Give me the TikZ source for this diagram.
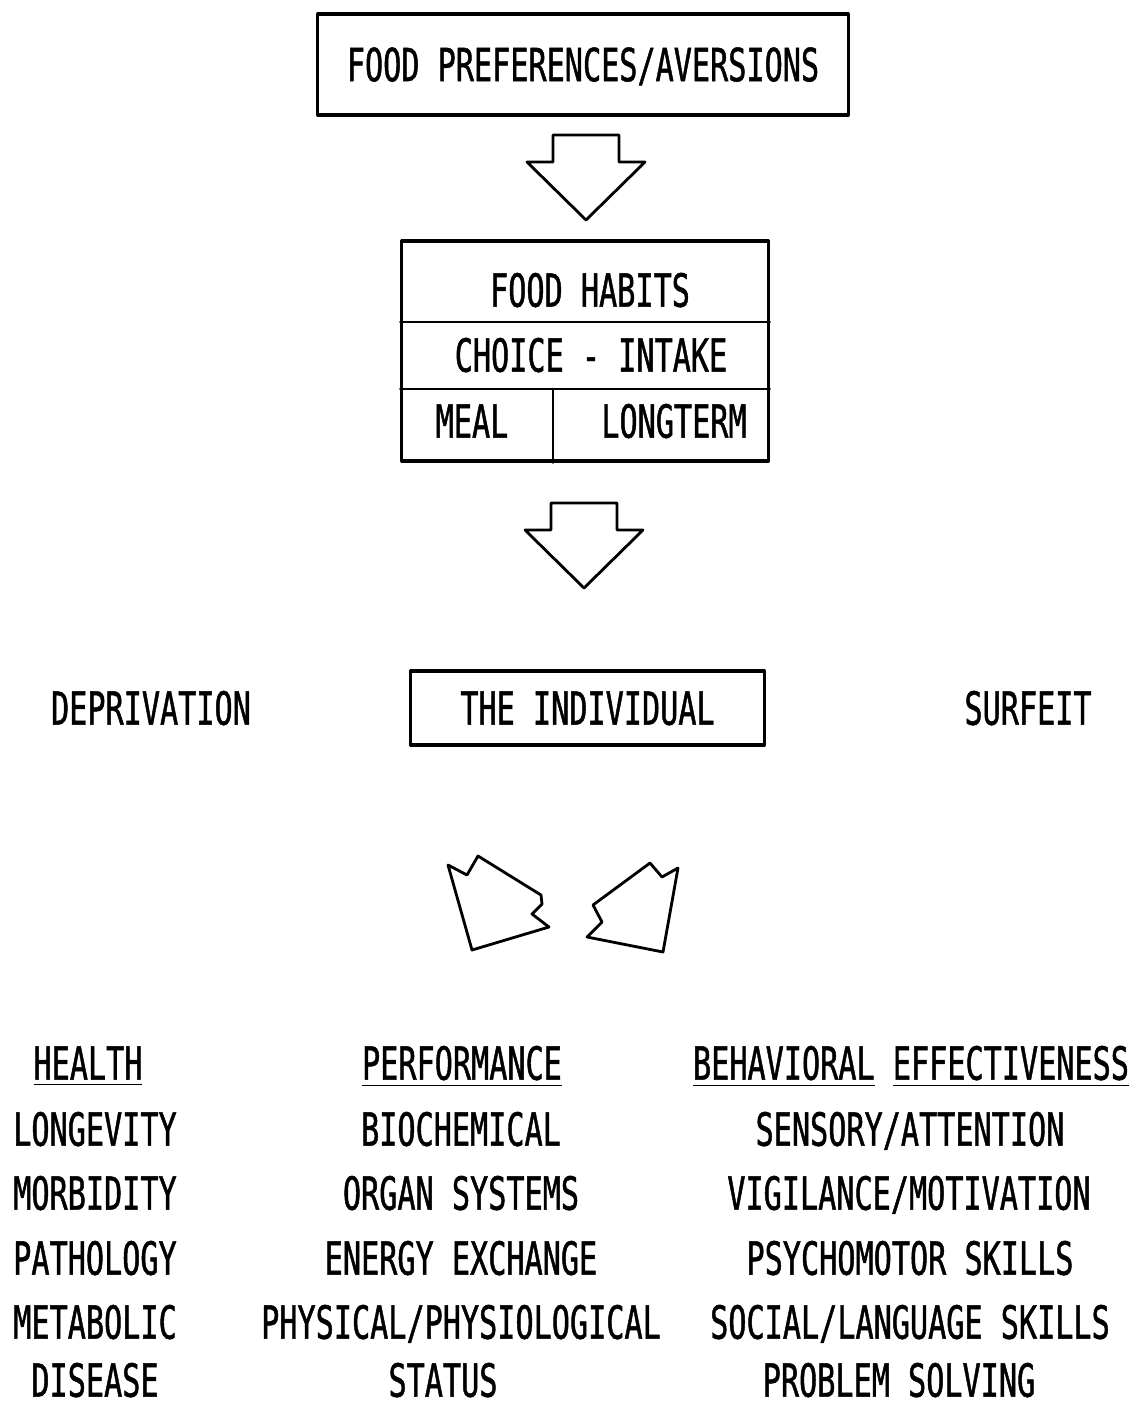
\documentclass[tikz,border=0pt]{standalone}
\usepackage{fontspec}
\newfontfamily\typewriter[FakeStretch=0.66,FakeBold=1]{DejaVu Sans Mono}
\usepackage{tikz}
\usetikzlibrary{positioning}
\tikzstyle{every node}=[font=\typewriter\fontsize{13}{15}\selectfont,inner sep=0pt,text height=9.5pt,text depth=0pt]
\tikzstyle{every path}=[line width=0.8pt,line cap=round,line join=round]
\tikzstyle{box}=[draw,line width=0.9pt]
\tikzset{blockdown/.pic={\draw (-33,0) -- (33,0) -- (33,27) -- (59,27) -- (0,85) -- (-59,27) -- (-33,27) -- cycle;}}

\begin{document}
\begin{tikzpicture}[x=0.01cm,y=-0.01cm]
\useasboundingbox (0,0) rectangle (1136,1406);

\node[box,minimum width=5.3cm,minimum height=1.01cm] (pref) at (583,64.5) {FOOD PREFERENCES/AVERSIONS};
\pic at (586,135) {blockdown};

% food habits table
\node[box,minimum width=3.66cm,minimum height=2.2cm] (habits) at (585,351) {};
\draw (habits.west |- 0,322) -- (habits.east |- 0,322);
\draw (habits.west |- 0,389) -- (habits.east |- 0,389);
\draw (553,389) -- (553,389 |- habits.south);
\node (fhab) at (590,290) {FOOD HABITS};
\node (choice) at (591,355) {CHOICE - INTAKE};
\node (meal) at (472,421) {MEAL};
\node (longterm) at (674,421) {LONGTERM};

\pic at (584,503) {blockdown};

\node[box,minimum width=3.53cm,minimum height=0.74cm] (indiv) at (587.5,708) {THE INDIVIDUAL};
\node (depriv) at (151,708) {DEPRIVATION};
\node (surfeit) at (1028,708) {SURFEIT};

% converging arrows
\draw (448,865) -- (467,875) -- (478,856) -- (541,895) -- (542,904) -- (532,914) -- (549,927) -- (472,950) -- cycle;
\draw (678,868) -- (662,877) -- (650,863) -- (593,905) -- (602,922) -- (587,937) -- (663,952) -- cycle;

% health
\node (health) at (88,1063) {\underline{HEALTH}};
\node (longev) at (95,1129) {LONGEVITY};
\node (morbid) at (95,1193) {MORBIDITY};
\node (patho) at (95,1258) {PATHOLOGY};
\node (metab) at (95,1322) {METABOLIC};
\node (disease) at (95,1380) {DISEASE};

% performance
\node (perf) at (462,1063) {\underline{PERFORMANCE}};
\node (biochem) at (461,1129) {BIOCHEMICAL};
\node (organ) at (461,1193) {ORGAN SYSTEMS};
\node (energy) at (461,1258) {ENERGY EXCHANGE};
\node (physical) at (461,1322) {PHYSICAL/PHYSIOLOGICAL};
\node (status) at (443,1380) {STATUS};

% behavioral effectiveness
\node (behav) at (911,1063) {\underline{BEHAVIORAL}\ \underline{EFFECTIVENESS}};
\node (sensory) at (910,1129) {SENSORY/ATTENTION};
\node (vigil) at (909,1193) {VIGILANCE/MOTIVATION};
\node (psycho) at (910,1258) {PSYCHOMOTOR SKILLS};
\node (social) at (910,1322) {SOCIAL/LANGUAGE SKILLS};
\node (problem) at (899,1380) {PROBLEM SOLVING};
\end{tikzpicture}
\end{document}
